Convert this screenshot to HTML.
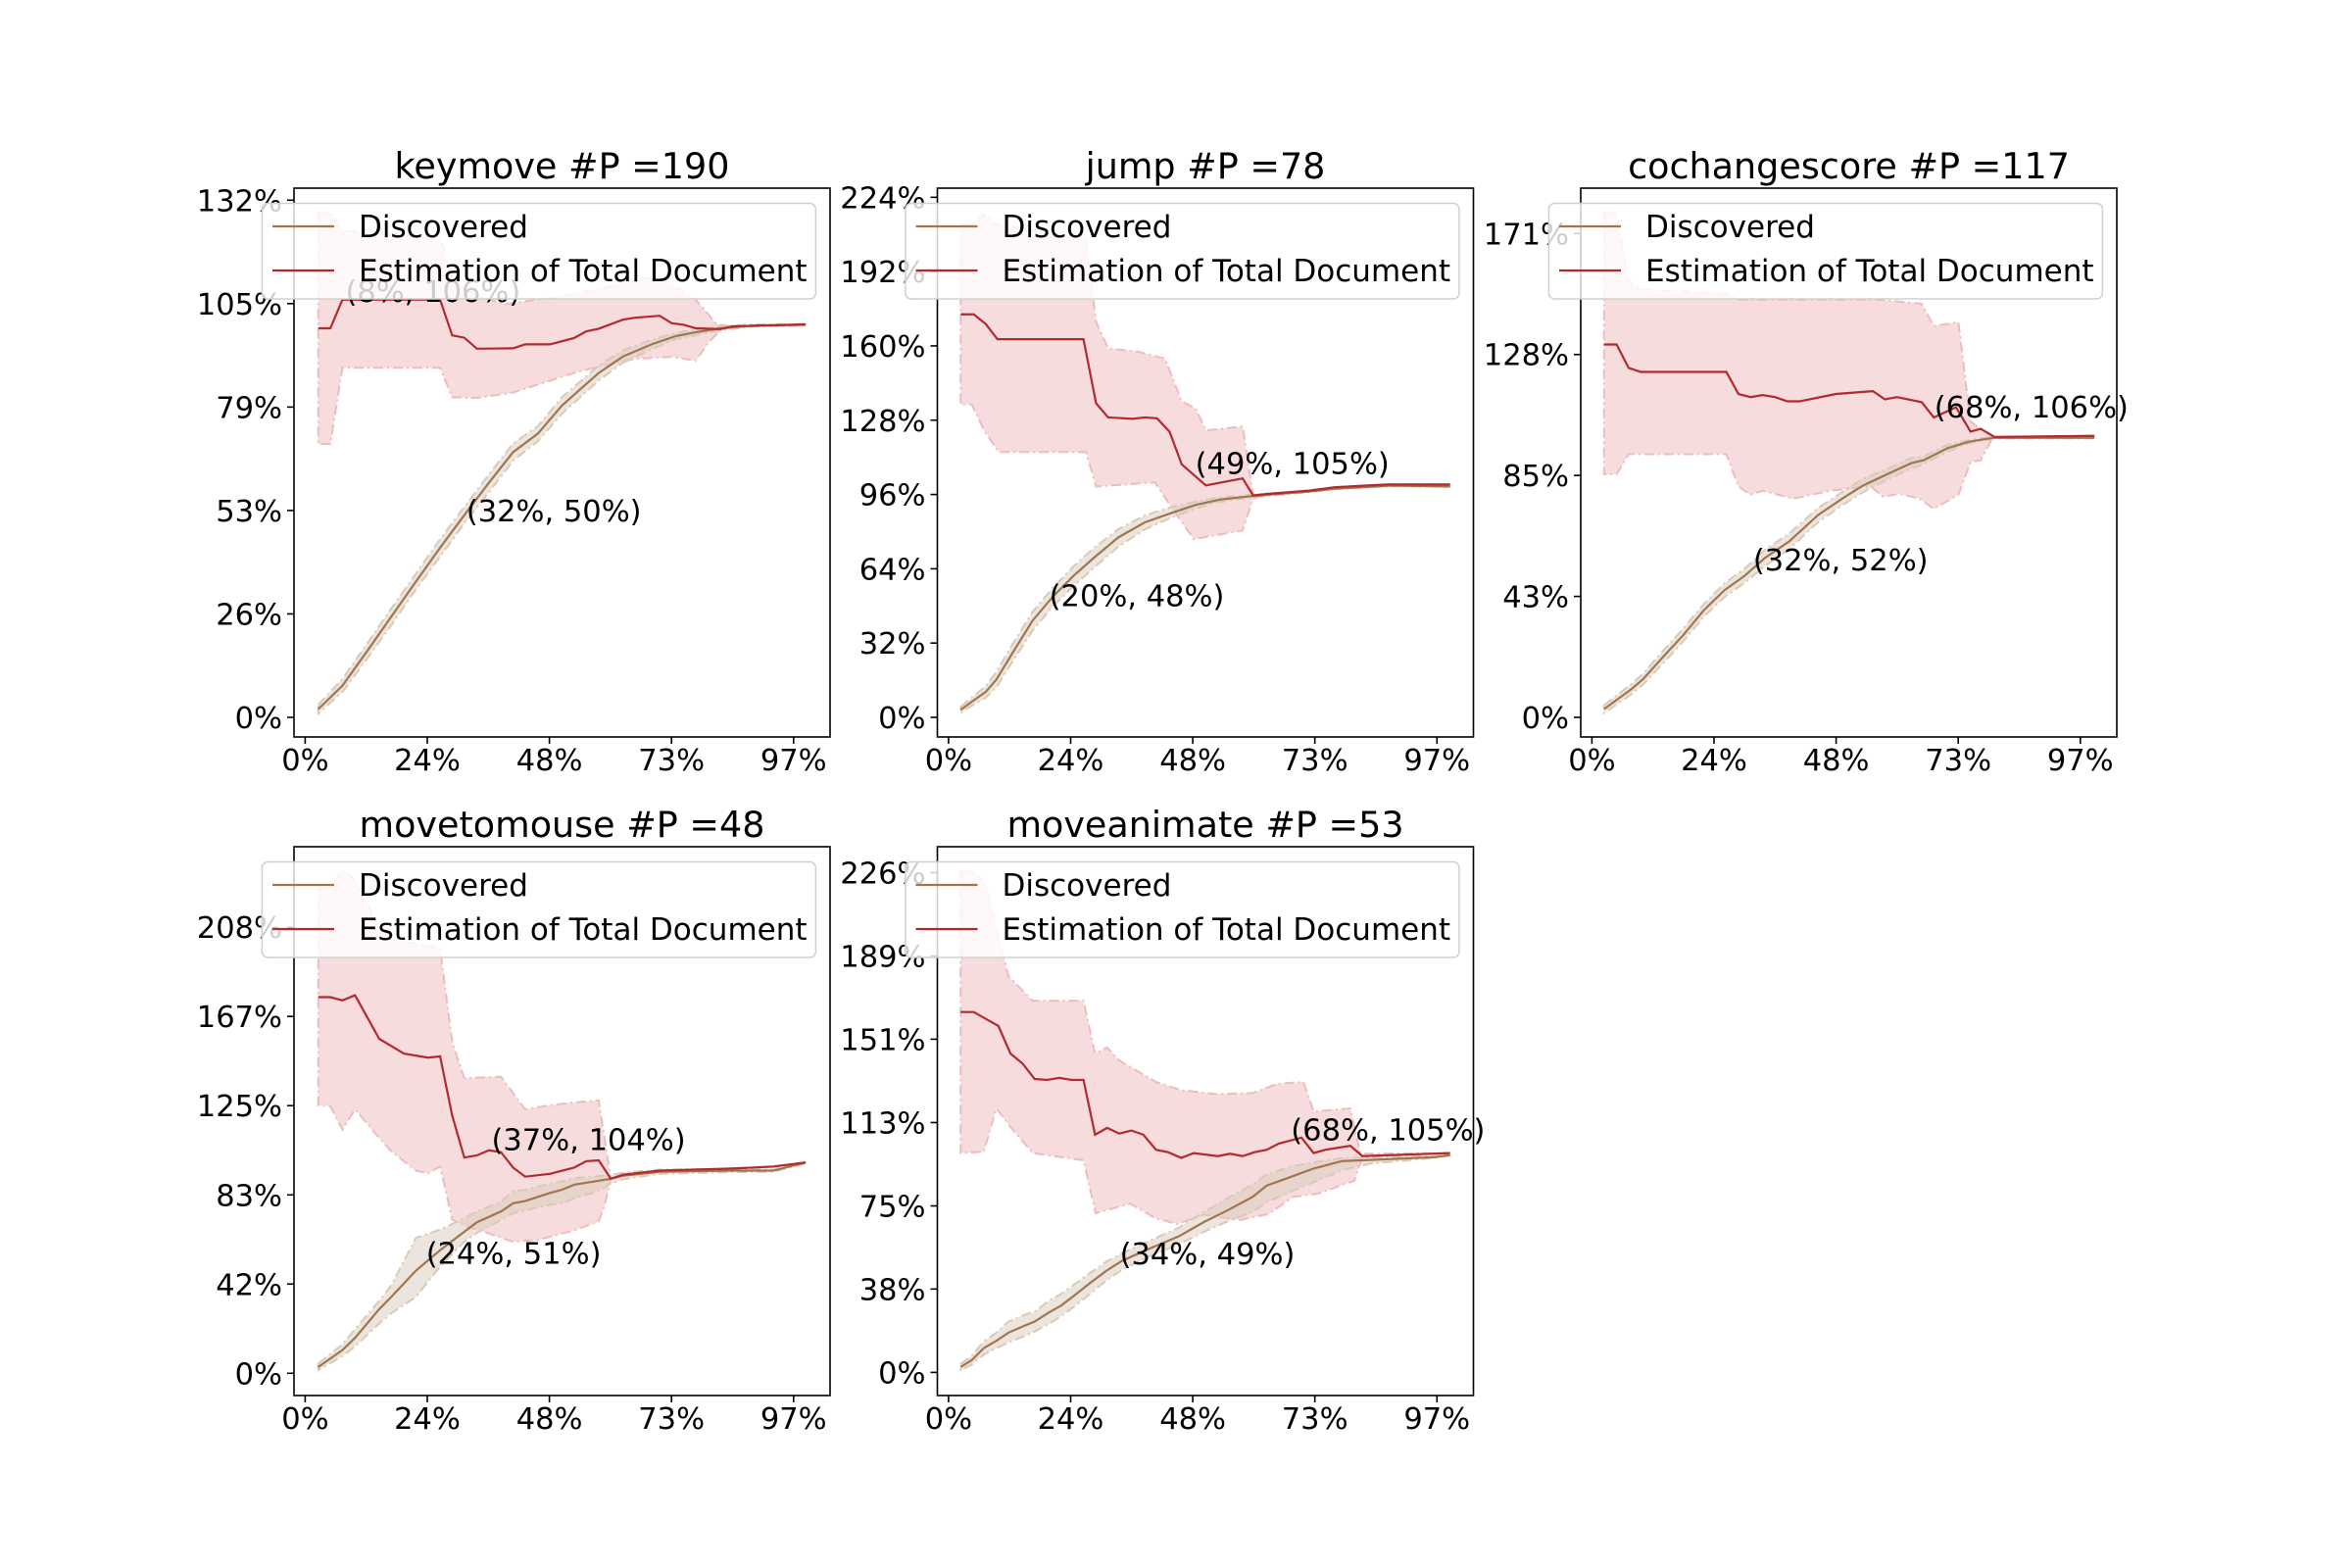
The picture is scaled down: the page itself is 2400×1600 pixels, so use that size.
<!DOCTYPE html>
<html><head><meta charset="utf-8"><style>
html,body{margin:0;padding:0;background:#fff;}
svg{display:block;font-family:"DejaVu Sans","Liberation Sans",sans-serif;}
</style></head><body>
<svg id="fig" width="2400" height="1600" viewBox="0 0 2400 1600" xmlns="http://www.w3.org/2000/svg"></svg>
<script>
// ---- data: panel 1 keymove ----
const p1DiscX=[2.6,7.4,12.3,17.1,21.9,26.8,31.6,36.5,41.3,46.2,51,58.3,63.1,68.8,73.6,77.6,82.5,88.9,99.4];
const p1DiscY=[2.1,8.1,16.9,25.7,34.5,43.3,51.6,59.9,67.7,72.4,79.6,87.9,92.1,95.2,97.3,98.3,99.3,100,100.2];
const p1DiscLo=[1,6.5,15,23.5,32.5,41,49.5,57.5,65.5,70.5,77.5,86,90.5,94,96.5,97.5,98.8,99.7,100];
const p1DiscHi=[3.2,9.8,18.8,27.8,36.5,45.5,53.7,62,69.9,74.3,81.7,89.8,93.7,96.4,98.1,99.1,99.8,100.3,100.4];
const p1EstX=[2.6,5,7.4,26.8,29.2,31.6,34.1,41.3,43.7,48.6,53.4,55.8,58.3,63.1,65.5,70.4,72.8,75.2,77.6,82.5,84.9,99.4];
const p1EstY=[99.3,99.3,106.6,106.6,97.5,96.9,94.1,94.2,95.2,95.2,96.8,98.5,99.2,101.5,102,102.5,100.6,100.2,99.3,99.1,99.8,100.3];
const p1UpX=[2.6,5,7.4,26.8,29.2,34.1,39.8,48.6,58.3,65.5,70.4,77.6,81.7,84.9,99.4];
const p1UpY=[128.9,128.9,124.2,122.6,111.8,107.6,105.5,107.1,109.2,112,112.3,106.6,100.4,99.8,100.3];
const p1LoX=[2.6,5,7.4,26.8,29.2,34.1,41.3,53.4,58.3,65.5,72.8,77.6,80.1,82.5,84.9,99.4];
const p1LoY=[69.8,69.8,89.2,89.2,81.7,81.5,82.9,87.9,89.5,91.5,92,91,95.7,98.8,99.8,100.3];
const p1TickV=[0,26.4,52.8,79.2,105.6,132];
const p1TickL=["0%","26%","53%","79%","105%","132%"];
// ---- panel 2 jump ----
const p2DiscX=[2.4,4.6,7.4,9.5,12.7,16.7,20.8,24.8,28.9,33.7,39,44.2,49.1,53.9,58.8,63.6,71.7,76.6,87.9,99.6];
const p2DiscY=[3.2,6.7,11,16.3,27.7,41.7,52.2,60.9,68.8,77.5,84,88,91.5,93.8,95,95.9,97.3,98.5,99.8,99.4];
const p2DiscLo=[2,5,8.5,13,24,37.5,48,56.5,64.5,73.5,81,86,90,92.8,94.3,95.4,97,98.2,99.6,99.3];
const p2DiscHi=[4.5,8.5,13.5,19.5,31.5,45.5,56,65,73,81,87,90.5,93,94.8,95.7,96.4,97.6,98.8,100,99.6];
const p2EstX=[2.4,5,7.4,9.7,26.8,29.3,31.7,36.5,39,41.4,43.9,46.3,51.1,58.4,60.5,63.6,71.7,76.6,87,99.6];
const p2EstY=[173.6,173.6,169.4,162.9,162.9,135.3,129.2,128.6,129.2,128.8,123,109,99.9,102.9,95.6,96.3,97.7,99.1,100.3,100.3];
const p2UpX=[2.4,4.6,7,9.5,27.3,29.3,31.7,37.7,43,46.3,49.1,51.1,58.4,60.5,63.6,71.7,76.6,87,99.6];
const p2UpY=[212.3,212.3,216.7,212.3,206.2,170.3,158.9,157.5,154.5,136.2,133,123.6,125.3,95.9,96.3,97.7,99.1,100.3,100.3];
const p2LoX=[2.4,4.6,7,9.9,27.3,29.3,41,44.2,48.7,58.4,60.5,63.6,71.7,76.6,87,99.6];
const p2LoY=[134.8,134.8,123.9,114.3,114.3,99.4,101.2,90.7,76.7,80.5,94.2,96.3,97.7,99.1,100.3,100.3];
const p2TickV=[0,32,64,96,128,160,192,224];
const p2TickL=["0%","32%","64%","96%","128%","160%","192%","224%"];
// ---- panel 3 cochangescore ----
const p3DiscX=[2.4,7.7,10.1,14.1,18.2,22.2,26.3,30.3,34.4,39.2,44.9,49.7,53.8,58.6,63.5,65.9,70.7,74.8,79.6,99.8];
const p3DiscY=[2.9,9.8,13.4,21.3,29.2,37.8,44.9,50,56.4,62.2,71.5,77.3,81.9,85.9,89.9,90.9,95.2,97.4,98.8,98.8];
const p3DiscLo=[1.5,8,11.5,19,27,35.5,42.5,47.5,53.5,59.5,69,75,79.5,84,88,89.5,94,96.8,98.5,98.6];
const p3DiscHi=[4.3,11.6,15.3,23.5,31.5,40,47.3,52.5,59.3,65,74,79.6,84.3,87.8,91.8,92.3,96.4,98,99.1,99];
const p3EstX=[2.4,4.9,7.3,9.7,26.7,29.1,31.5,33.9,36.4,38.8,41.2,48.5,55.8,58.2,60.6,65.5,67.9,72.3,75.2,77.2,80,99.8];
const p3EstY=[131.8,131.8,123.5,122.1,122.1,114.3,113.2,113.9,113.2,111.7,111.7,114.3,115.3,112.4,113.2,111.4,106,109.6,101,102,99.1,99.5];
const p3UpX=[2.4,4.9,7.3,9.7,26.7,29.1,57.2,65.5,67.9,72.8,75.2,79.6,99.8];
const p3UpY=[178.5,178.5,154.1,151.2,149.8,147.6,147.6,146.2,138.3,139.7,104.5,99.1,99.5];
const p3LoX=[2.4,4.9,7.3,26.7,29.1,31.5,33.9,40,47.3,55.4,57.8,61,65.1,67.9,72.8,75.2,77.2,79.6,99.8];
const p3LoY=[85.9,85.9,93,93,81.6,78.7,80.1,77.3,80.1,81.6,78,79,77.3,73.7,78.7,90.2,90.9,98.8,99.2];
const p3TickV=[0,42.75,85.5,128.25,171];
const p3TickL=["0%","43%","85%","128%","171%"];
// ---- panel 4 movetomouse ----
const p4DiscX=[2.6,7.4,9.9,14.7,17.1,22,26.8,31.6,34.1,38.9,41.3,43.7,48.6,51,53.4,58.3,60.7,63.1,70.4,84.9,93,99.4];
const p4DiscY=[2.9,10.8,16.5,29.9,35.6,47.9,57.4,66,70.4,75.5,79.3,80.3,84.1,85.6,87.9,89.8,90.7,92.1,94,94.5,94.5,98.3];
const p4DiscLo=[1.5,8,12.5,23.2,28,35.6,49.8,61.3,65.5,71.5,74.6,76,78.5,79.3,81.5,85,88.5,90.5,93,93.8,94,97.8];
const p4DiscHi=[4.5,13.5,20.5,33.7,41,63.2,67,72.3,75.5,80,85,85.5,88.5,89.5,91,92,92.5,93.5,95,95.2,95,98.8];
const p4EstX=[2.6,5,7.4,9.9,14.7,19.6,24.4,26.8,29.2,31.6,34.1,36.5,38.9,41.3,43.7,48.6,53.4,55.8,58.3,60.7,63.1,70.4,84.9,93,99.4];
const p4EstY=[175.4,175.4,173.9,176.3,156,149.1,147.2,147.8,120.2,100.6,101.6,104,103.1,95.9,91.7,93,95.9,98.9,99.3,90.7,92.6,94.5,95.5,96.4,98.3];
const p4UpX=[2.6,5,7.4,9.9,14.7,17.1,24.4,26.8,29.2,31.6,38.9,43.7,48.6,53.4,58.3,60.7,63.1,70.4,84.9,93,99.4];
const p4UpY=[225.8,226.7,234.7,230.5,207.7,202,199.7,198.2,154.5,137.7,138.3,123.1,125,126.3,127.3,90.7,92.6,94.5,95.5,96.4,98.3];
const p4LoX=[2.6,5,7.4,9.9,14.7,17.1,22,24.4,26.8,29.2,31.6,36.5,41.3,46.2,53.4,58.3,59.5,60.7,63.1,70.4,84.9,93,99.4];
const p4LoY=[125,124.5,113.6,123.1,109.8,103.5,94.5,93.2,96.4,71.7,68.9,65.1,61.3,62.2,66.6,70.8,78.4,90.7,92.6,94.5,95.5,96.4,98.3];
const p4TickV=[0,41.6,83.2,124.8,166.4,208];
const p4TickL=["0%","42%","83%","125%","167%","208%"];
// ---- panel 5 moveanimate ----
const p5DiscX=[2.4,4.6,7,9.5,11.9,15.1,17.1,20,22.4,24.8,28.1,31.3,34.5,39.4,45.8,50.7,55.6,60.4,63.2,67.7,72.5,78.2,83.8,96.7,99.6];
const p5DiscY=[2.4,5.5,11,14.3,18,21.1,23,27.2,30.3,34.5,40.4,45.9,50.5,55.5,61.6,68,73.5,79.4,84.5,88.2,92.2,95.6,96.1,97.4,98.3];
const p5DiscLo=[1,3.5,8,11,13.5,16.5,18.5,22,25.5,29.5,35.5,41.5,46.5,52,58,63.5,68.5,72.5,77,81.5,86,91.5,94.5,97,98];
const p5DiscHi=[3.8,7.5,14,18,23,26,27.5,32.5,35.5,39.5,45,50,54,59,65.5,72.5,79,85,89.5,93,95,97,97.2,97.8,98.6];
const p5EstX=[2.4,5,9.9,12.3,14.7,17.1,19.6,22,24.4,26.8,29.1,31.5,33.9,36.3,38.7,41.2,43.6,46.2,48.7,53.5,55.9,58.4,60.8,63.2,65.6,70.1,72.5,74.9,79.8,82.2,99.6];
const p5EstY=[163,163,156.7,144.2,139.7,132.7,132.3,133.2,132.3,132.3,107.5,110.6,108,109.4,107.5,100.7,99.6,97,99.2,97.8,98.9,97.8,99.6,100.7,103.5,106.2,99.2,100.7,102.5,97.8,99.2];
const p5UpX=[2.4,5,7.4,11.9,16.7,26.8,29.1,31.5,33.9,41.2,46.2,53.1,60.4,65.2,70.5,72.5,79.8,81.8,99.6];
const p5UpY=[226.9,226.9,219.6,179.2,168.1,168.1,144.2,147,141.1,131.4,127.7,125.9,126.4,130.5,131.4,118,119.4,98.9,99.2];
const p5LoX=[2.4,7,9.5,11.9,16.7,26.8,29.2,36.1,41,45.4,50.7,57.9,63.6,68.5,73.3,80.6,82.2,99.6];
const p5LoY=[99.2,99.8,119.4,112.1,99.2,95.9,72,76.3,69.8,67.1,71.3,68.9,71.7,79.4,80.8,86.7,97.8,99.2];
const p5TickV=[0,37.7,75.3,113,150.7,188.3,226];
const p5TickL=["0%","38%","75%","113%","151%","189%","226%"];
// shared x-axis ticks
const xTickV=[0,24.25,48.5,72.75,97];
const xTickL=["0%","24%","48%","73%","97%"];
// titles and annotations
const titles=["keymove #P =190","jump #P =78","cochangescore #P =117","movetomouse #P =48","moveanimate #P =53"];
const annX=[[8,32],[49,20],[68,32],[37,24],[68,34]];
const annY=[[106,50],[105,48],[106,52],[104,51],[105,49]];

const NS="http://www.w3.org/2000/svg";
const svg=document.getElementById('fig');
function mk(tag,attrs,parent){const e=document.createElementNS(NS,tag);for(const k in attrs)e.setAttribute(k,attrs[k]);(parent||svg).appendChild(e);return e;}

const panels=[
 {left:300,top:192,y0:732,ppp:3.998,d:[p1DiscX,p1DiscY,p1DiscLo,p1DiscHi,p1EstX,p1EstY,p1UpX,p1UpY,p1LoX,p1LoY],tv:p1TickV,tl:p1TickL},
 {left:956.5,top:192,y0:732,ppp:2.369,d:[p2DiscX,p2DiscY,p2DiscLo,p2DiscHi,p2EstX,p2EstY,p2UpX,p2UpY,p2LoX,p2LoY],tv:p2TickV,tl:p2TickL},
 {left:1613,top:192,y0:732,ppp:2.887,d:[p3DiscX,p3DiscY,p3DiscLo,p3DiscHi,p3EstX,p3EstY,p3UpX,p3UpY,p3LoX,p3LoY],tv:p3TickV,tl:p3TickL},
 {left:300,top:864,y0:1401.3,ppp:2.188,d:[p4DiscX,p4DiscY,p4DiscLo,p4DiscHi,p4EstX,p4EstY,p4UpX,p4UpY,p4LoX,p4LoY],tv:p4TickV,tl:p4TickL},
 {left:956.5,top:864,y0:1400.4,ppp:2.256,d:[p5DiscX,p5DiscY,p5DiscLo,p5DiscHi,p5EstX,p5EstY,p5UpX,p5UpY,p5LoX,p5LoY],tv:p5TickV,tl:p5TickL}
];
const W=547,H=560;

panels.forEach((p,i)=>{
  const g=mk('g',{});
  
  
  const xs=v=>p.left+11.4+v*5.138;
  const ys=v=>p.y0-v*p.ppp;
  const clipId='clip'+i;
  const cp=mk('clipPath',{id:clipId},g);
  mk('rect',{x:p.left,y:p.top,width:W,height:H},cp);
  const plot=mk('g',{'clip-path':'url(#'+clipId+')'},g);
  const [dX,dY,dLo,dHi,eX,eY,uX,uY,lX,lY]=p.d;
  let pts=[];
  uX.forEach((x,k)=>pts.push(xs(x)+','+ys(uY[k])));
  for(let k=lX.length-1;k>=0;k--)pts.push(xs(lX[k])+','+ys(lY[k]));
  const eb=mk('polygon',{points:pts.join(' '),fill:'#f7dcdd',stroke:'#e9b0b4','stroke-width':2,'stroke-dasharray':'10,4,2,4','stroke-opacity':0.8},plot);
  
  
  pts=[];
  dX.forEach((x,k)=>pts.push(xs(x)+','+ys(dHi[k])));
  for(let k=dX.length-1;k>=0;k--)pts.push(xs(dX[k])+','+ys(dLo[k]));
  const db=mk('polygon',{points:pts.join(' '),fill:'#d8cbbc','fill-opacity':0.5,stroke:'#d9c9b8','stroke-width':2,'stroke-dasharray':'10,4,2,4'},plot);
  
  
  const dl=mk('polyline',{points:dX.map((x,k)=>xs(x)+','+ys(dY[k])).join(' '),fill:'none',stroke:'#a0754f','stroke-width':2.2},plot);
  
  
  const el=mk('polyline',{points:eX.map((x,k)=>xs(x)+','+ys(eY[k])).join(' '),fill:'none',stroke:'#b22a2e','stroke-width':2.2},plot);
  
  
  const fr=mk('rect',{x:p.left,y:p.top,width:W,height:H,fill:'none',stroke:'#000','stroke-width':1.6},g);
  
  
  xTickV.forEach((v,k)=>{
    const x=xs(v);
    mk('line',{x1:x,y1:p.top+H,x2:x,y2:p.top+H+7,stroke:'#000','stroke-width':1.6},g);
    const t=mk('text',{x:x,y:p.top+H+34,'font-size':30.5,'text-anchor':'middle',fill:'#000'},g);
    t.textContent=xTickL[k];
    
    
  });
  p.tv.forEach((v,k)=>{
    const y=ys(v);
    mk('line',{x1:p.left-7,y1:y,x2:p.left,y2:y,stroke:'#000','stroke-width':1.6},g);
    const t=mk('text',{x:p.left-12,y:y+11,'font-size':30.5,'text-anchor':'end',fill:'#000'},g);
    t.textContent=p.tl[k];
    
    
  });
  annX[i].forEach((ax,k)=>{
    const t=mk('text',{x:xs(ax),y:ys(annY[i][k]),'font-size':30.5,fill:'#000'},g);
    t.textContent='('+ax+'%, '+annY[i][k]+'%)';
    
    
  });
  const tt=mk('text',{x:p.left+W/2,y:p.top-10,'font-size':36.5,'text-anchor':'middle',fill:'#000'},g);
  tt.textContent=titles[i];
  
  
  const lg=mk('g',{},g);
  
  
  mk('rect',{x:p.left-32.6,y:p.top+15.5,width:565,height:97.5,rx:6,fill:'#fff','fill-opacity':0.8,stroke:'#d0d0d0','stroke-width':1.5},lg);
  const ents=[['Discovered','#a0754f',39],['Estimation of Total Document','#b22a2e',84]];
  ents.forEach(en=>{
    const le=mk('g',{},lg);
    
    
    mk('line',{x1:p.left-22,y1:p.top+en[2],x2:p.left+41,y2:p.top+en[2],stroke:en[1],'stroke-width':2.2},le);
    const t=mk('text',{x:p.left+66,y:p.top+en[2]+11,'font-size':31,fill:'#000'},le);
    t.textContent=en[0];
  });
});
</script>
</body></html>
